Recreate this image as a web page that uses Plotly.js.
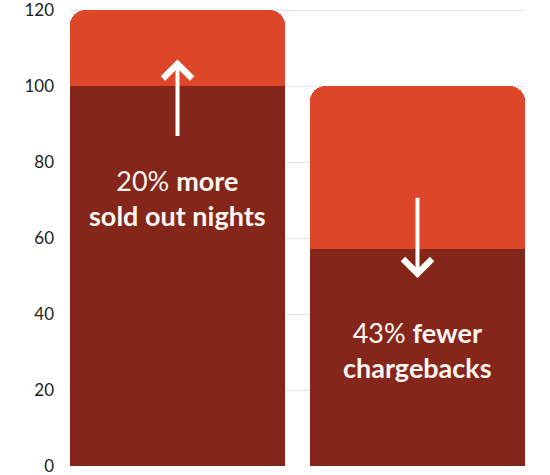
<!DOCTYPE html>
<html>
<head>
<meta charset="utf-8">
<script src="https://cdn.plot.ly/plotly-3.0.1.min.js"></script>
<style>html,body{margin:0;padding:0;background:#fff;}#chart{width:550px;height:475px;}</style>
</head>
<body>
<div id="chart"></div>
<script>
const categories = ['Sold out nights', 'Chargebacks'];
const baseValues = [100, 57];
const changeValues = [20, 43];
const yTicks = [0, 20, 40, 60, 80, 100, 120];
const labelLines = [
  ['20% <b>more</b>', '<b>sold out nights</b>'],
  ['43% <b>fewer</b>', '<b>chargebacks</b>']
];
const labelY = [70.5, 30.5];
const arrowTail = [86.5, 71];
const arrowTip = [107, 49.5];

const dark = '#84271a';
const light = '#dd4628';

const traces = [
  {type: 'bar', x: categories, y: baseValues, marker: {color: dark, line: {width: 0}}, width: 0.896, hoverinfo: 'skip'},
  {type: 'bar', x: categories, y: changeValues, marker: {color: light, line: {width: 0}}, width: 0.896, hoverinfo: 'skip'}
];

const annotations = [];
categories.forEach((c, i) => {
  annotations.push({
    x: c, y: labelY[i], xref: 'x', yref: 'y',
    text: labelLines[i].join('<br>'), showarrow: false,
    font: {family: 'Lato, sans-serif', size: 27, color: '#fdf6f2'},
    align: 'center'
  });
  annotations.push({
    x: c, y: arrowTip[i], ax: c, ay: arrowTail[i],
    xref: 'x', yref: 'y', axref: 'x', ayref: 'y',
    text: '', showarrow: true, arrowhead: 4, arrowsize: 1.4, arrowwidth: 4,
    arrowcolor: '#ffffff', standoff: 0, startstandoff: 0
  });
});

const layout = {
  width: 550, height: 475,
  margin: {l: 70, r: 25, t: 9, b: 9},
  paper_bgcolor: '#ffffff', plot_bgcolor: '#ffffff',
  barmode: 'stack', barcornerradius: 15, showlegend: false,
  xaxis: {range: [-0.448, 1.448], showticklabels: false, showgrid: false, zeroline: false, showline: false, ticks: ''},
  yaxis: {range: [0, 120.3], tickvals: yTicks, ticktext: yTicks.map(String), showgrid: true, gridcolor: '#e3e3e3', gridwidth: 1,
    zeroline: false, showline: false, ticks: '', ticklabelstandoff: 15, ticklabeloverflow: 'allow',
    tickfont: {family: 'Lato, sans-serif', size: 17, color: '#222222'}},
  annotations: annotations,
  font: {family: 'Lato, sans-serif'}
};

Plotly.newPlot('chart', traces, layout, {displayModeBar: false, staticPlot: true});
</script>
</body>
</html>
